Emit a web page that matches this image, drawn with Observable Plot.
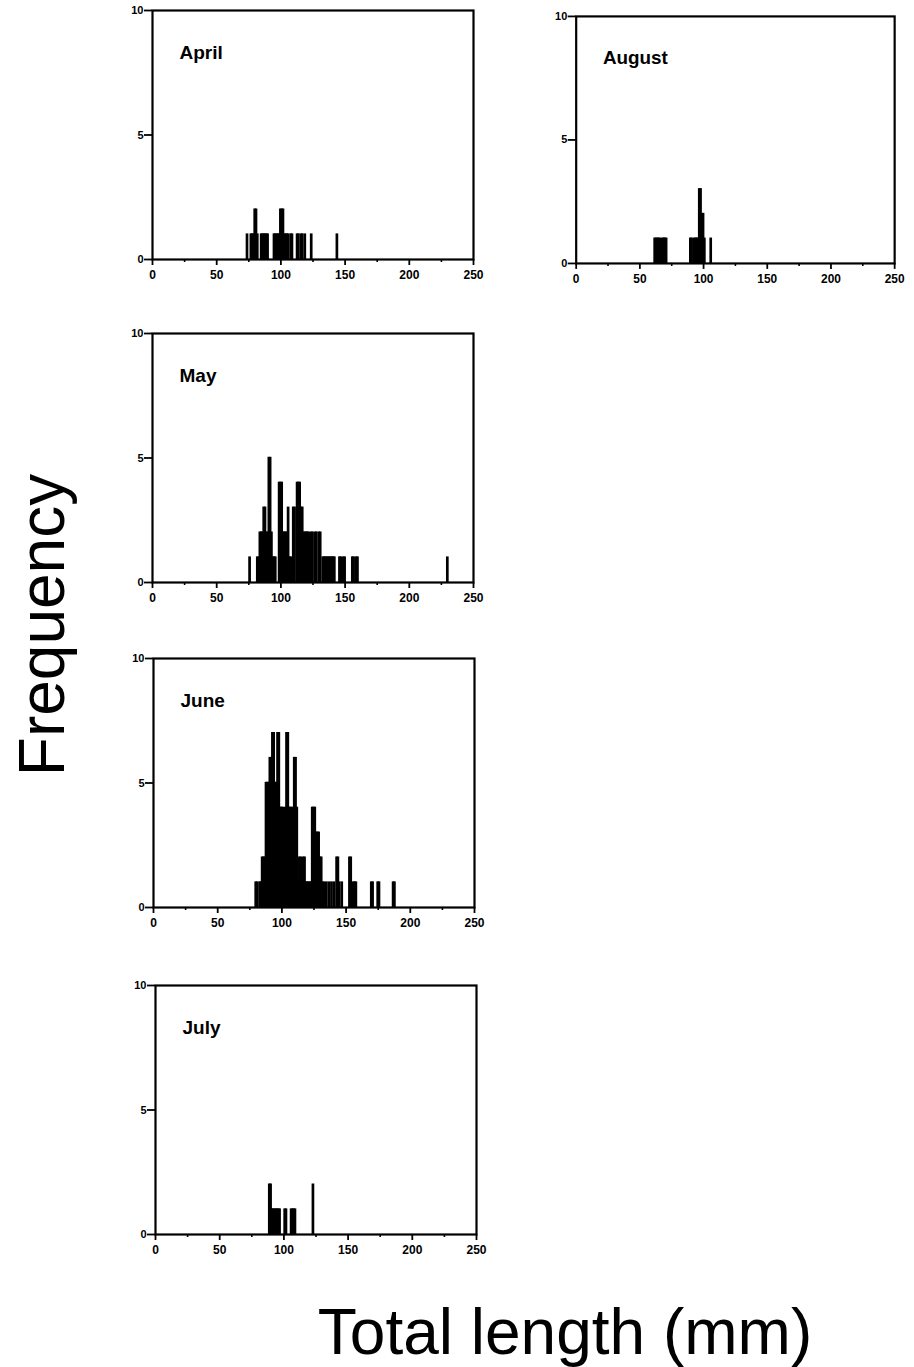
<!DOCTYPE html>
<html>
<head>
<meta charset="utf-8">
<script src="https://cdn.jsdelivr.net/npm/d3@7"></script>
<script src="https://cdn.jsdelivr.net/npm/@observablehq/plot@0.6"></script>
<style>
  html, body { margin: 0; padding: 0; background: #fff; }
  #page { position: relative; width: 914px; height: 1367px; overflow: hidden; font-family: "Liberation Sans", Arial, Helvetica, sans-serif; }
  .panel { position: absolute; }
  #ylab { position: absolute; left: 42px; top: 625px; transform: translate(-50%, -50%) rotate(-90deg); font-size: 64px; white-space: nowrap; color: #000; }
  #xlab { position: absolute; left: 565px; top: 1300px; transform: translateX(-50%); font-size: 64px; white-space: nowrap; color: #000; line-height: 1; }
</style>
</head>
<body>
<div id="page">
  <div id="ylab">Frequency</div>
  <div id="xlab">Total length (mm)</div>
</div>
<script>
// ---- data (total length in mm, frequency per 1-mm class) ----
const months = ["April", "August", "May", "June", "July"];

const aprilLen = [74, 77, 78, 79, 80, 81, 82, 85, 86, 87, 88, 89, 90, 95, 96, 97, 98, 99, 100, 101, 102, 103, 104, 105, 106, 108, 109, 113, 114, 116, 117, 119, 124, 144];
const aprilN   = [1, 1, 1, 1, 2, 2, 1, 1, 1, 1, 1, 1, 1, 1, 1, 1, 1, 1, 2, 2, 2, 1, 1, 1, 1, 1, 1, 1, 1, 1, 1, 1, 1, 1];

const augustLen = [62, 63, 64, 65, 66, 68, 69, 70, 71, 90, 91, 93, 94, 95, 96, 97, 98, 99, 100, 101, 106];
const augustN   = [1, 1, 1, 1, 1, 1, 1, 1, 1, 1, 1, 1, 1, 1, 1, 3, 3, 2, 2, 1, 1];

const mayLen = [76, 82, 83, 84, 85, 86, 87, 88, 89, 90, 91, 92, 93, 94, 95, 96, 99, 100, 101, 102, 103, 104, 105, 106, 107, 108, 110, 111, 113, 114, 115, 116, 117, 118, 119, 120, 121, 122, 124, 125, 127, 128, 130, 131, 133, 134, 135, 136, 137, 138, 139, 140, 141, 142, 146, 147, 149, 150, 156, 157, 159, 160, 230];
const mayN   = [1, 1, 1, 2, 2, 2, 3, 3, 2, 2, 5, 5, 2, 1, 1, 1, 4, 4, 4, 2, 2, 2, 2, 3, 1, 1, 3, 3, 4, 4, 4, 3, 3, 2, 2, 2, 2, 2, 2, 2, 2, 2, 2, 2, 1, 1, 1, 1, 1, 1, 1, 1, 1, 1, 1, 1, 1, 1, 1, 1, 1, 1, 1];

const juneLen = [80, 81, 83, 84, 85, 86, 87, 88, 89, 90, 91, 92, 93, 94, 95, 96, 97, 98, 99, 100, 101, 102, 103, 104, 105, 106, 107, 108, 109, 110, 111, 112, 113, 114, 115, 116, 117, 118, 119, 120, 121, 122, 123, 124, 125, 126, 127, 128, 129, 130, 131, 132, 133, 135, 137, 139, 141, 143, 144, 145, 147, 153, 154, 156, 157, 158, 170, 171, 175, 176, 187, 188];
const juneN   = [1, 1, 1, 1, 2, 2, 2, 5, 5, 5, 6, 6, 7, 7, 5, 5, 7, 7, 4, 4, 4, 3, 4, 7, 7, 4, 4, 4, 3, 6, 6, 4, 1, 2, 2, 1, 2, 2, 1, 1, 1, 1, 1, 4, 4, 4, 3, 3, 3, 2, 2, 1, 1, 1, 1, 1, 1, 2, 2, 1, 1, 2, 2, 1, 1, 1, 1, 1, 1, 1, 1, 1];

const julyLen = [89, 90, 91, 92, 93, 94, 95, 96, 97, 101, 102, 106, 107, 108, 109, 123];
const julyN   = [2, 2, 1, 1, 1, 1, 1, 1, 1, 1, 1, 1, 1, 1, 1, 2];

const xMajorTicks = [0, 50, 100, 150, 200, 250];
const xMinorTicks = [25, 75, 125, 175, 225];
const yTicks = [0, 5, 10];

// ---- layout ----
const frames = {
  April:  {left: 152, top: 10},
  August: {left: 576, top: 16},
  May:    {left: 152, top: 333},
  June:   {left: 153, top: 658},
  July:   {left: 155, top: 985}
};
const series = {
  April: [aprilLen, aprilN],
  August: [augustLen, augustN],
  May: [mayLen, mayN],
  June: [juneLen, juneN],
  July: [julyLen, julyN]
};

const innerW = 321, innerH = 249;
const mL = 40, mR = 20, mT = 10, mB = 34;
const page = document.getElementById("page");

for (const m of months) {
  const [lens, ns] = series[m];
  const data = lens.map((len, i) => ({len, n: ns[i]}));
  const chart = Plot.plot({
    width: innerW + mL + mR,
    height: innerH + mT + mB,
    marginLeft: mL, marginRight: mR, marginTop: mT, marginBottom: mB,
    x: {domain: [0, 250]},
    y: {domain: [0, 10]},
    style: {fontFamily: "'Liberation Sans', Arial, Helvetica, sans-serif", fontSize: "12px", fontWeight: "bold", color: "#000", background: "transparent"},
    marks: [
      Plot.rectY(data, {x1: d => d.len - 0.5, x2: d => d.len + 0.5, y: "n", fill: "#000", stroke: "#000", strokeWidth: 1.4}),
      Plot.axisX({ticks: xMinorTicks, tickSize: 3, tickFormat: () => "", label: null, strokeWidth: 1.6}),
      Plot.axisX({ticks: xMajorTicks, tickSize: 6, tickPadding: 5, tickFormat: d => String(d), label: null, strokeWidth: 1.8, fontWeight: "bold", fontSize: 12}),
      Plot.axisY({ticks: yTicks, tickSize: 8, tickPadding: 1, tickFormat: d => String(d), label: null, strokeWidth: 1.8, fontWeight: "bold", fontSize: 11}),
      Plot.frame({stroke: "#000", strokeWidth: 2.2}),
      Plot.text([m], {frameAnchor: "top-left", text: d => d, dx: 27, dy: 48, lineAnchor: "bottom", textAnchor: "start", fontSize: 19, fontWeight: "bold", fill: "#000"})
    ]
  });
  const div = document.createElement("div");
  div.className = "panel";
  div.style.left = (frames[m].left - mL) + "px";
  div.style.top = (frames[m].top - mT) + "px";
  div.appendChild(chart);
  page.appendChild(div);
}
</script>
</body>
</html>
